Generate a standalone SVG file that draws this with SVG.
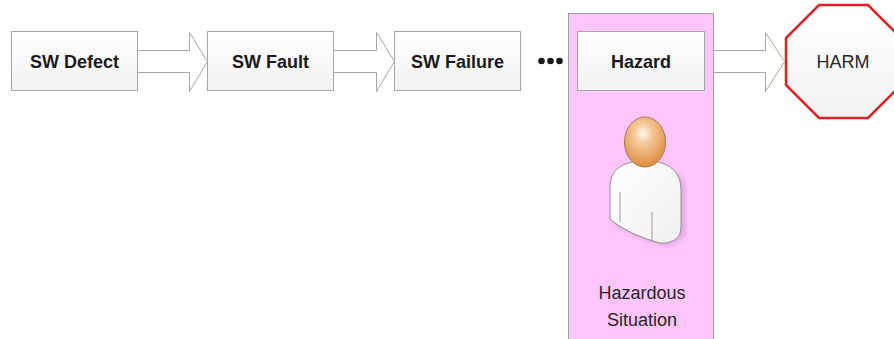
<svg xmlns="http://www.w3.org/2000/svg" width="894" height="339" viewBox="0 0 894 339">
  <defs>
    <linearGradient id="boxFill" x1="0" y1="0" x2="0" y2="1">
      <stop offset="0" stop-color="#ffffff"/>
      <stop offset="1" stop-color="#f2f2f2"/>
    </linearGradient>
    <linearGradient id="harmFill" x1="0" y1="0" x2="0" y2="1">
      <stop offset="0" stop-color="#ffffff"/>
      <stop offset="1" stop-color="#f3f3f3"/>
    </linearGradient>
    <radialGradient id="headFill" cx="0.45" cy="0.33" r="0.68">
      <stop offset="0" stop-color="#fffaf4"/>
      <stop offset="0.3" stop-color="#f6c999"/>
      <stop offset="1" stop-color="#dc8c3e"/>
    </radialGradient>
    <linearGradient id="bodyFill" x1="0" y1="0" x2="1" y2="1">
      <stop offset="0" stop-color="#ffffff"/>
      <stop offset="1" stop-color="#f0f0f0"/>
    </linearGradient>
    <filter id="soft" x="-20%" y="-20%" width="140%" height="140%">
      <feGaussianBlur stdDeviation="2"/>
    </filter>
  </defs>
  <style>
    .box { fill: url(#boxFill); stroke: #a6a6a6; stroke-width: 1; }
    .lbl { font-family: "Liberation Sans", Arial, sans-serif; font-size: 18px; font-weight: bold; fill: #1a1a1a; text-anchor: middle; }
    .plain { font-family: "Liberation Sans", Arial, sans-serif; font-size: 18px; fill: #262626; text-anchor: middle; }
    .arrow { fill: #ffffff; stroke: #a6a6a6; stroke-width: 1; stroke-linejoin: miter; }
  </style>

  <rect width="894" height="339" fill="#ffffff"/>

  <!-- hazardous situation container with person -->
  <g id="hazardous-situation">
    <rect x="568.5" y="13.5" width="145" height="340" fill="#ffc6fd" stroke="#a0a0a0" stroke-width="1"/>
    <!-- person shadow -->
    <path d="M636 168 C624 170 614 176 614 190 L613 224 C625 232 645 242 664 246 C676 246 686 240 686 230 L686 192 C686 176 674 168 660 168 Z" fill="#d49ad2" opacity="0.6" filter="url(#soft)"/>
    <!-- body -->
    <path d="M633 162 C620 164 610 172 610 186 L610 219 C620 228 640 238 660 243 C672 244 681 238 681 228 L681 190 C681 173 670 164 657 162 Z" fill="url(#bodyFill)" stroke="#7a7a7a" stroke-width="0.8"/>
    <!-- collar -->
    <path d="M632 163 C638 168 652 168 658 163 L658 160 C652 164 638 164 632 160 Z" fill="#e4e4e4"/>
    <!-- arm creases -->
    <line x1="620" y1="192" x2="620" y2="222" stroke="#8a8a8a" stroke-width="0.8"/>
    <line x1="652" y1="212" x2="652" y2="242" stroke="#8a8a8a" stroke-width="0.8"/>
    <!-- head -->
    <ellipse cx="645" cy="142" rx="20.5" ry="25" fill="url(#headFill)" stroke="#9a6a3a" stroke-width="0.8"/>
    <text class="plain" x="642" y="299">Hazardous</text>
    <text class="plain" x="642" y="326">Situation</text>
  </g>

  <!-- process steps -->
  <g id="sw-defect">
    <rect class="box" x="11.5" y="31.5" width="126" height="59"/>
    <text class="lbl" x="74.5" y="67.5">SW Defect</text>
  </g>
  <g id="sw-fault">
    <rect class="box" x="207.5" y="31.5" width="126" height="59"/>
    <text class="lbl" x="270.5" y="67.5">SW Fault</text>
  </g>
  <g id="sw-failure">
    <rect class="box" x="394.5" y="31.5" width="126" height="59"/>
    <text class="lbl" x="457.5" y="67.5">SW Failure</text>
  </g>
  <g id="ellipsis">
    <circle cx="541.5" cy="61" r="3.3" fill="#1a1a1a"/>
    <circle cx="550.5" cy="61" r="3.3" fill="#1a1a1a"/>
    <circle cx="559.5" cy="61" r="3.3" fill="#1a1a1a"/>
  </g>
  <g id="hazard">
    <rect class="box" x="577.5" y="31.5" width="127" height="59"/>
    <text class="lbl" x="641" y="67.5">Hazard</text>
  </g>

  <!-- harm (stop sign) -->
  <g id="harm">
    <polygon points="819,5 868,5 901,38 901,85 868,118 819,118 786,85 786,38" fill="url(#harmFill)" stroke="#e41e1e" stroke-width="2.5" stroke-linejoin="miter"/>
    <text class="plain" x="843" y="68">HARM</text>
  </g>

  <!-- block arrows between steps -->
  <g id="connectors">
    <path class="arrow" d="M137.5 50.5 H189.5 V32.5 L207.5 61.5 L189.5 91.5 V72.5 H137.5 Z"/>
    <path class="arrow" d="M333.5 50.5 H376.5 V32.5 L394.5 61.5 L376.5 91.5 V72.5 H333.5 Z"/>
    <path class="arrow" d="M713.5 50.5 H765.5 V32.5 L784.5 61.5 L765.5 91.5 V72.5 H713.5 Z"/>
  </g>
</svg>
